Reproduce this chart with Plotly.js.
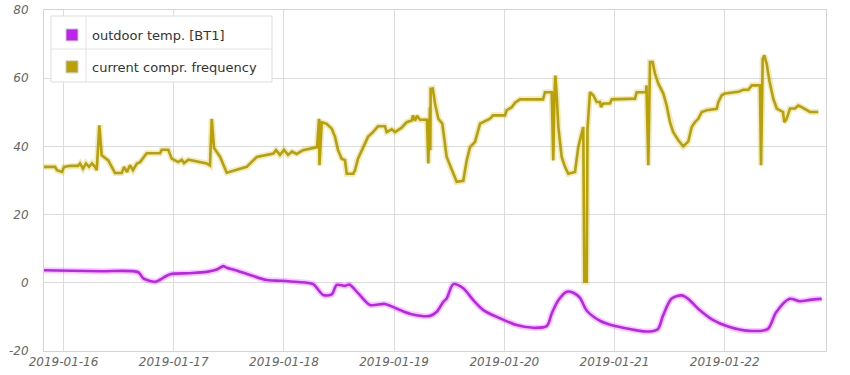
<!DOCTYPE html>
<html>
<head>
<meta charset="utf-8">
<script src="https://cdn.plot.ly/plotly-3.0.1.min.js"></script>
<style>
html,body{margin:0;padding:0;background:#fff;}
#chart{width:850px;height:375px;}
.xtick text, .ytick text {font-style: italic !important;}
</style>
</head>
<body>
<div id="chart"></div>
<script>
// ---- data ----
var freqNames = "current compr. frequency";
var tempNames = "outdoor temp. [BT1]";

var freqTimes = [
"2019-01-15 19:45","2019-01-15 22:09","2019-01-15 22:35","2019-01-15 23:40","2019-01-16 00:07","2019-01-16 01:25",
"2019-01-16 03:09","2019-01-16 03:36","2019-01-16 04:15","2019-01-16 04:54","2019-01-16 05:33","2019-01-16 06:12",
"2019-01-16 06:52","2019-01-16 07:14","2019-01-16 07:48","2019-01-16 08:19","2019-01-16 09:45","2019-01-16 11:13",
"2019-01-16 12:41","2019-01-16 13:11","2019-01-16 13:50","2019-01-16 14:29","2019-01-16 15:08","2019-01-16 16:00",
"2019-01-16 16:40","2019-01-16 18:07","2019-01-16 21:01","2019-01-16 21:23","2019-01-16 22:49","2019-01-16 23:34",
"2019-01-17 01:00","2019-01-17 01:45","2019-01-17 02:15","2019-01-17 03:11","2019-01-17 07:11","2019-01-17 07:54",
"2019-01-17 08:17","2019-01-17 08:47","2019-01-17 10:05","2019-01-17 11:33","2019-01-17 15:54","2019-01-17 17:20",
"2019-01-17 18:05","2019-01-17 21:42","2019-01-17 22:17","2019-01-17 23:09","2019-01-18 00:01","2019-01-18 00:54",
"2019-01-18 01:46","2019-01-18 02:47","2019-01-18 04:10","2019-01-18 07:13","2019-01-18 07:39","2019-01-18 07:45",
"2019-01-18 08:14","2019-01-18 09:19","2019-01-18 10:25","2019-01-18 11:08","2019-01-18 11:47","2019-01-18 12:35",
"2019-01-18 13:18","2019-01-18 13:41","2019-01-18 15:07","2019-01-18 15:29","2019-01-18 16:08","2019-01-18 17:18",
"2019-01-18 18:19","2019-01-18 19:24","2019-01-18 20:30","2019-01-18 22:01","2019-01-18 22:23","2019-01-18 23:29",
"2019-01-19 00:12","2019-01-19 01:39","2019-01-19 02:45","2019-01-19 03:50","2019-01-19 04:07","2019-01-19 04:33",
"2019-01-19 04:59","2019-01-19 05:39","2019-01-19 07:10","2019-01-19 07:27","2019-01-19 07:49","2019-01-19 07:53",
"2019-01-19 07:58","2019-01-19 08:25","2019-01-19 08:55","2019-01-19 09:38","2019-01-19 10:30","2019-01-19 11:27",
"2019-01-19 12:33","2019-01-19 13:38","2019-01-19 15:04","2019-01-19 15:49","2019-01-19 16:32","2019-01-19 17:37",
"2019-01-19 18:43","2019-01-19 19:26","2019-01-19 20:53","2019-01-19 21:33","2019-01-20 00:09","2019-01-20 00:31",
"2019-01-20 01:37","2019-01-20 02:20","2019-01-20 03:25","2019-01-20 08:26","2019-01-20 08:52","2019-01-20 10:20",
"2019-01-20 10:40","2019-01-20 10:56","2019-01-20 11:07","2019-01-20 11:25","2019-01-20 11:46","2019-01-20 12:30",
"2019-01-20 13:13","2019-01-20 13:56","2019-01-20 15:24","2019-01-20 16:07","2019-01-20 16:38","2019-01-20 17:12",
"2019-01-20 17:26","2019-01-20 17:57","2019-01-20 18:07","2019-01-20 18:40","2019-01-20 19:23","2019-01-20 20:08",
"2019-01-20 20:51","2019-01-20 21:04","2019-01-20 21:34","2019-01-20 23:01","2019-01-20 23:24","2019-01-21 04:28",
"2019-01-21 04:50","2019-01-21 06:52","2019-01-21 06:58","2019-01-21 07:22","2019-01-21 07:44","2019-01-21 08:19",
"2019-01-21 08:49","2019-01-21 09:33","2019-01-21 10:38","2019-01-21 11:22","2019-01-21 12:05","2019-01-21 12:48",
"2019-01-21 13:54","2019-01-21 14:59","2019-01-21 16:05","2019-01-21 16:49","2019-01-21 17:32","2019-01-21 18:15",
"2019-01-21 19:00","2019-01-21 20:05","2019-01-21 22:16","2019-01-21 22:37","2019-01-21 23:21","2019-01-22 00:04",
"2019-01-22 02:58","2019-01-22 04:03","2019-01-22 05:09","2019-01-22 05:53","2019-01-22 07:41","2019-01-22 07:55",
"2019-01-22 08:17","2019-01-22 08:38","2019-01-22 09:09","2019-01-22 09:43","2019-01-22 10:35","2019-01-22 11:20",
"2019-01-22 12:42","2019-01-22 12:59","2019-01-22 13:30","2019-01-22 14:13","2019-01-22 15:19","2019-01-22 16:02",
"2019-01-22 16:46","2019-01-22 17:52","2019-01-22 18:35","2019-01-22 20:23"
];
var freqValues = [
34,34,33,32.5,34,34.3,
34.3,35,33.5,35,34,35,
34,33,46.2,37.4,35.9,32.2,
32.2,34,32.5,34.5,33,35,
35.4,38,38,39,39,36.4,
35.4,36.1,35.1,36.1,35,34.4,
48.1,39.5,37,32.3,34,36,
36.9,37.9,38.9,37.5,39,37.5,
38.5,37.8,38.9,39.8,48.1,34.5,
47.1,46.6,45.2,42.8,38.9,36.4,
36,32,32,33,36.4,39.8,
42.8,44.2,45.9,45.9,44.2,45,
44.2,45.5,47.1,47.6,49.1,47.5,
49,47.8,47.8,35,51.5,38.9,
56.9,57,52.5,48.1,46.7,36.9,
33,29.6,29.9,35.9,39.8,41.3,
46.7,47.1,48.1,49.1,49.1,50.6,
51.5,52.8,53.8,53.8,55.9,55.9,
35.9,55.9,60.8,55,45.7,36.9,
34,32,32.5,39.8,42.8,45.7,
0.3,0.3,45,55.9,55,53,
53,51.5,52.6,52.6,53.8,54,
55.9,55.9,57.9,34.5,64.7,64.7,
61.3,58.4,55.5,52,47.1,44.2,
41.8,40,41.5,45.7,47.1,48.1,
50.1,50.6,51,53,55,55.5,
56,56.6,56.6,57.9,57.9,34.5,
65.7,66.7,64.2,59.4,54,51.1,
50.1,47.1,48.1,51.1,51.1,52,
51.5,50.6,50.1,50.1
];

var tempTimes = [
"2019-01-15 19:45","2019-01-16 07:57","2019-01-16 16:17","2019-01-16 17:23","2019-01-16 19:56","2019-01-16 21:01",
"2019-01-16 23:12","2019-01-17 03:33","2019-01-17 07:11","2019-01-17 09:22","2019-01-17 10:48","2019-01-17 11:33",
"2019-01-17 12:59","2019-01-17 16:37","2019-01-17 20:15","2019-01-17 23:09","2019-01-18 04:58","2019-01-18 06:24",
"2019-01-18 08:35","2019-01-18 10:25","2019-01-18 11:30","2019-01-18 13:18","2019-01-18 14:15","2019-01-18 16:12",
"2019-01-18 18:45","2019-01-18 22:01","2019-01-19 01:17","2019-01-19 03:50","2019-01-19 07:49","2019-01-19 09:17",
"2019-01-19 10:43","2019-01-19 11:27","2019-01-19 12:54","2019-01-19 15:04","2019-01-19 17:15","2019-01-19 19:26",
"2019-01-19 23:04","2019-01-20 02:42","2019-01-20 06:19","2019-01-20 09:14","2019-01-20 10:20","2019-01-20 11:46",
"2019-01-20 13:36","2019-01-20 15:02","2019-01-20 16:29","2019-01-20 17:59","2019-01-20 20:56","2019-01-20 23:52",
"2019-01-21 03:33","2019-01-21 06:52","2019-01-21 09:26","2019-01-21 10:33","2019-01-21 12:24","2019-01-21 14:36",
"2019-01-21 16:03","2019-01-21 18:17","2019-01-21 21:13","2019-01-22 00:54","2019-01-22 05:18","2019-01-22 09:21",
"2019-01-22 11:11","2019-01-22 14:08","2019-01-22 16:20","2019-01-22 18:33","2019-01-22 21:08"
];
var tempValues = [
3.7,3.4,3.1,1.3,0.3,0.9,
2.5,2.8,3.2,3.9,4.9,4.4,
3.9,2.3,0.8,0.6,0,-0.4,
-3.6,-3.4,-0.6,-0.9,-0.5,-3.1,
-6.5,-6.2,-8,-9.2,-9.7,-8.5,
-5.6,-4.6,-0.4,-1.6,-5.1,-8,
-10.4,-12.4,-13.2,-12.7,-9,-5.1,
-2.6,-2.9,-4.4,-8.2,-11.2,-12.6,
-13.6,-14.3,-13.6,-9.7,-4.7,-3.7,
-4.7,-7.7,-10.7,-12.9,-14.1,-13.6,
-8.7,-4.7,-5.4,-5,-4.7
];

var yTickVals = [-20, 0, 20, 40, 60, 80];
var xRange = ["2019-01-15 19:45", "2019-01-22 22:04"];

// ---- style ----
var tempColor = "#bf22ef";
var freqColor = "#b8a100";
var tickFont = {family: "DejaVu Sans", size: 12, color: "#666", style: "italic"};

var traces = [
  // soft shadows
  {x: freqTimes, y: freqValues, type: "scatter", mode: "lines", hoverinfo: "skip", showlegend: false,
   line: {color: "rgba(184,161,0,0.22)", width: 6}},
  {x: tempTimes, y: tempValues, type: "scatter", mode: "lines", hoverinfo: "skip", showlegend: false,
   line: {color: "rgba(191,34,239,0.22)", width: 6, shape: "spline", smoothing: 0.8}},
  // main lines
  {x: freqTimes, y: freqValues, type: "scatter", mode: "lines", name: freqNames, showlegend: false,
   line: {color: freqColor, width: 2.6}},
  {x: tempTimes, y: tempValues, type: "scatter", mode: "lines", name: tempNames, showlegend: false,
   line: {color: tempColor, width: 2.6, shape: "spline", smoothing: 0.8}},
  // legend swatches (square boxes like the original)
  {x: [null], y: [null], type: "bar", name: tempNames, legendgroup: "a", showlegend: true,
   marker: {color: tempColor, line: {color: "#ccc", width: 1}}},
  {x: [null], y: [null], type: "bar", name: freqNames, legendgroup: "b", showlegend: true,
   marker: {color: freqColor, line: {color: "#ccc", width: 1}}}
];

// legend table frame (pixel positions converted to paper fractions)
var plotL = 44, plotW = 782, plotB = 351, plotH = 341;
function px(x) { return (x - plotL) / plotW; }
function py(y) { return (plotB - y) / plotH; }
var legendShapes = [
  {type: "rect", xref: "paper", yref: "paper", x0: px(51), x1: px(272), y0: py(82), y1: py(16),
   fillcolor: "rgba(255,255,255,0.96)", line: {color: "#dddddd", width: 1}, layer: "above"},
  {type: "line", xref: "paper", yref: "paper", x0: px(51), x1: px(272), y0: py(49), y1: py(49),
   line: {color: "#e2e2e2", width: 1}, layer: "above"},
  {type: "line", xref: "paper", yref: "paper", x0: px(86), x1: px(86), y0: py(82), y1: py(16),
   line: {color: "#e2e2e2", width: 1}, layer: "above"}
];

var layout = {
  width: 850, height: 375,
  margin: {l: 44, r: 24, t: 10, b: 24},
  paper_bgcolor: "#fff", plot_bgcolor: "#fff",
  showlegend: true,
  legend: {
    x: px(52), y: py(20), xanchor: "left", yanchor: "top",
    bgcolor: "rgba(0,0,0,0)", borderwidth: 0,
    font: {family: "DejaVu Sans", size: 13, color: "#333"},
    traceorder: "grouped", tracegroupgap: 12, itemwidth: 30
  },
  shapes: legendShapes,
  xaxis: {
    type: "date", range: xRange, dtick: 86400000, tick0: "2019-01-16",
    tickformat: "%Y-%m-%d", tickfont: tickFont, ticks: "", ticklen: 0,
    showgrid: true, gridcolor: "#dcdcdc", gridwidth: 1,
    showline: true, linecolor: "#d4d4d4", linewidth: 1, mirror: true, zeroline: false
  },
  yaxis: {
    range: [-20, 80], tickvals: yTickVals, ticktext: yTickVals.map(String),
    tickfont: tickFont, ticks: "outside", ticklen: 12, tickcolor: "rgba(0,0,0,0)",
    showgrid: true, gridcolor: "#dcdcdc", gridwidth: 1,
    showline: true, linecolor: "#d4d4d4", linewidth: 1, mirror: true, zeroline: false
  },
  barmode: "overlay"
};

Plotly.newPlot("chart", traces, layout, {displayModeBar: false, staticPlot: true});
</script>
</body>
</html>
